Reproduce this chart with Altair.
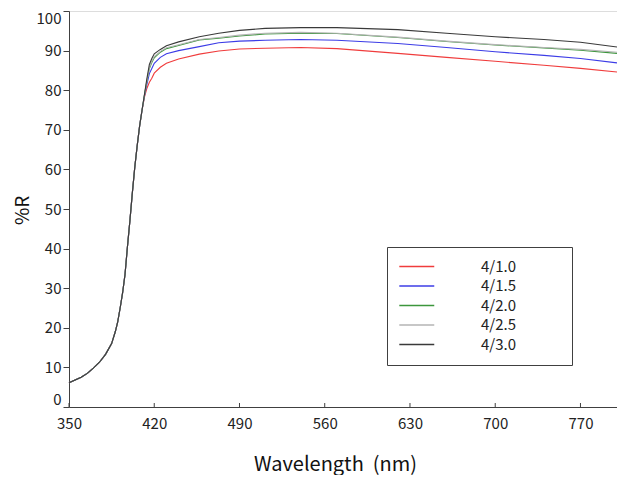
import altair as alt
import pandas as pd

series = ["4/1.0", "4/1.5", "4/2.0", "4/2.5", "4/3.0"]
colors = ["#f03c3c", "#3c3ce6", "#3c963c", "#b4b4b4", "#3a3a3a"]

# common rising part (all samples overlap)
rise_wl = [350, 355, 360, 365, 370, 375, 380, 385, 388, 390, 392, 394, 396, 398, 400, 402, 404, 406, 408, 410]
rise_r = [6.1, 6.8, 7.5, 8.5, 9.8, 11.3, 13.3, 16.0, 19.0, 21.5, 25.0, 28.8, 33.5, 40.5, 47.0, 54.0, 60.5, 66.0, 71.0, 75.0]

# separate part for each sample
wl = [412, 414, 416, 418, 420, 425, 430, 440, 457, 473, 490, 511, 540, 570, 620, 660, 700, 740, 770, 800]
r_10 = [78.3, 80.5, 82.0, 83.0, 84.3, 85.8, 86.8, 87.9, 89.1, 89.9, 90.4, 90.6, 90.8, 90.5, 89.3, 88.3, 87.3, 86.3, 85.5, 84.6]
r_15 = [78.6, 81.5, 84.2, 85.5, 86.8, 88.3, 89.2, 90.0, 91.0, 92.0, 92.4, 92.6, 92.8, 92.6, 91.8, 90.8, 89.7, 88.8, 88.0, 86.9]
r_20 = [78.8, 82.3, 85.5, 87.0, 88.2, 89.6, 90.5, 91.3, 92.7, 93.1, 93.7, 94.2, 94.4, 94.3, 93.3, 92.3, 91.4, 90.7, 90.1, 89.3]
r_25 = [78.8, 82.4, 85.7, 87.3, 88.5, 89.8, 90.7, 91.5, 92.8, 93.3, 93.9, 94.4, 94.6, 94.4, 93.4, 92.4, 91.5, 90.8, 90.3, 89.6]
r_30 = [79.0, 83.0, 86.5, 88.0, 89.2, 90.3, 91.2, 92.2, 93.5, 94.4, 95.1, 95.6, 95.8, 95.8, 95.3, 94.4, 93.5, 92.8, 92.1, 90.9]

x_ticks = [350, 420, 490, 560, 630, 700, 770]
y_ticks = [0, 10, 20, 30, 40, 50, 60, 70, 80, 90, 100]

rows = []
for s, vals in zip(series, [r_10, r_15, r_20, r_25, r_30]):
    for w, v in zip(rise_wl, rise_r):
        rows.append({"wl": w, "R": v, "s": s})
    for w, v in zip(wl, vals):
        rows.append({"wl": w, "R": v, "s": s})
df = pd.DataFrame(rows)
df["ord"] = df["s"].map({s: i for i, s in enumerate(series)})

W, H = 548, 396
FONT = "Noto Sans CJK KR"
NB = "\u00a0"

lines = alt.Chart(df).mark_line(strokeWidth=1.1).encode(
    x=alt.X("wl:Q", scale=alt.Scale(domain=[350, 800], nice=False, zero=False),
            axis=alt.Axis(values=x_ticks, tickSize=0, labelPadding=9, grid=False,
                          title="Wavelength" + NB + NB + "(nm)", titlePadding=23, titleFontSize=20,
                          titleFontWeight="normal", titleX=266, titleColor="#111",
                          labelFontSize=15, labelColor="#222", labelFont=FONT, titleFont=FONT,
                          domainColor="#404040", labelFlush=False)),
    y=alt.Y("R:Q", scale=alt.Scale(domain=[0, 100], nice=False),
            axis=alt.Axis(values=y_ticks, tickSize=6, tickColor="#404040", labelPadding=2, grid=False,
                          labelFlush=True, labelFlushOffset=0,
                          title="%R", titleX=-41, titleY=199, titleAngle=270, titleAlign="center",
                          titleBaseline="alphabetic", titleFontSize=19, titleFontWeight="normal",
                          titleColor="#111", labelFontSize=15, labelColor="#222",
                          labelFont=FONT, titleFont=FONT, domainColor="#404040")),
    color=alt.Color("s:N", scale=alt.Scale(domain=series, range=colors),
                    legend=alt.Legend(title="4/1.0", titleOrient="right", titleOpacity=0,
                                      titleFontSize=15, titleFont=FONT, titlePadding=6,
                                      orient="none", legendX=318, legendY=236,
                                      symbolType="M-2.4,0H9.25", symbolSize=36, symbolStrokeWidth=1.5,
                                      labelOffset=67, labelFontSize=15, labelFont=FONT,
                                      labelColor="#222", padding=12, rowPadding=3.5,
                                      strokeColor="#404040", fillColor="white")),
    order=alt.Order("ord:Q"),
)

tick_df = pd.DataFrame({"t": x_ticks})
xt = alt.Chart(tick_df).mark_rule(color="#404040", strokeWidth=1).encode(
    x="t:Q", y=alt.value(H), y2=alt.value(H - 4)
)

chart = alt.layer(lines, xt).properties(
    width=W, height=H,
    autosize=alt.AutoSizeParams(type="none"),
    padding={"left": 61, "top": 3, "right": 0, "bottom": 68},
).configure_view(stroke="#404040", strokeWidth=1).configure(background="white")

chart.save("out.html", embed_options={"renderer": "svg", "actions": False})
